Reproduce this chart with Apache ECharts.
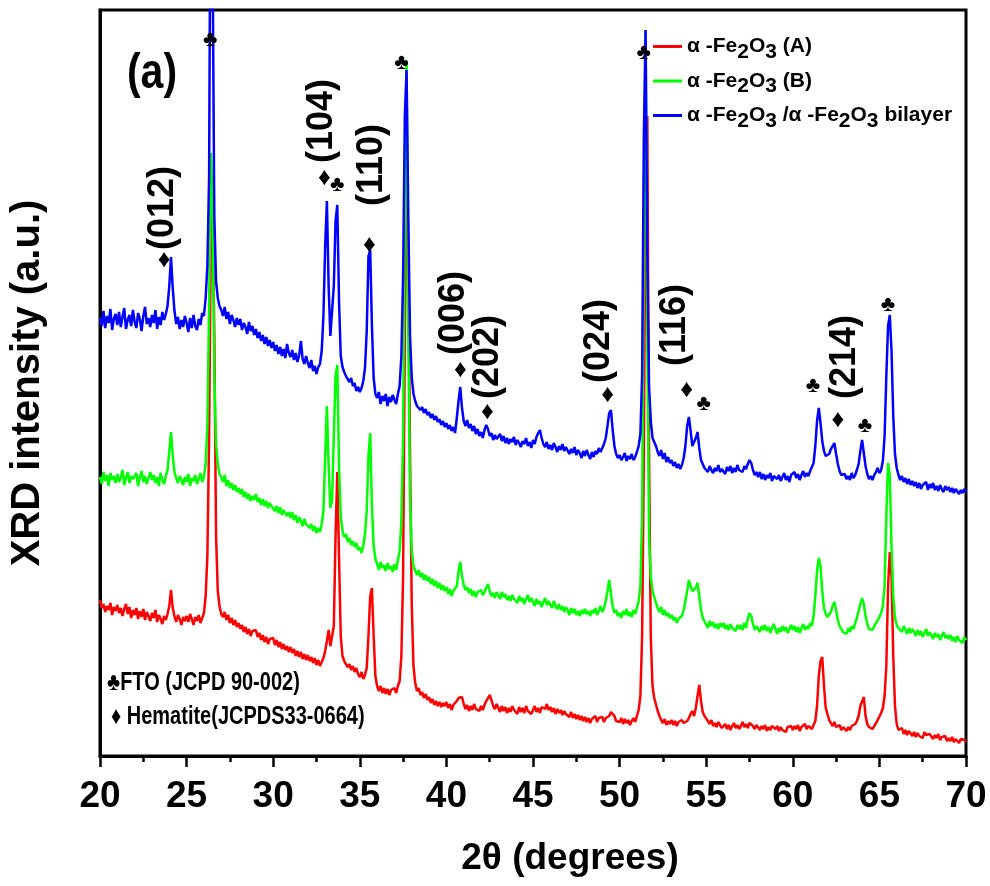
<!DOCTYPE html>
<html>
<head>
<meta charset="utf-8">
<script src="https://cdn.jsdelivr.net/npm/echarts@6/dist/echarts.min.js"></script>
<style>
  html, body { margin: 0; padding: 0; background: #ffffff; }
  #chart { width: 990px; height: 886px; }
</style>
</head>
<body>
<div id="chart"></div>
<script>
// XRD scan: 2θ from 20° to 70° in 0.1° steps
const scanStart = 20;
const scanStep = 0.1;

// α-Fe2O3 (A) intensities (a.u.), one row per degree
const sampleA = [
  156,148,152,144,150,146,153,141,149,145,
  151,143,148,140,147,152,142,149,138,146,
  141,148,137,145,139,147,136,144,140,135,
  143,138,146,134,141,137,132,140,136,142,
  150,166,148,140,134,141,137,131,139,135,
  140,134,142,137,131,139,135,141,133,138,
  143,160,200,320,520,556,420,220,165,150,
  142,139,144,136,141,133,138,131,136,129,
  133,127,131,124,129,122,127,120,125,123,
  126,119,123,116,121,114,119,112,117,115,
  118,111,116,109,114,107,112,106,110,104,
  109,103,107,100,105,99,104,97,102,96,
  101,95,99,93,98,91,96,90,94,98,
  105,115,126,110,108,130,220,284,200,120,
  100,95,93,89,92,86,90,84,88,82,
  79,84,77,81,88,120,160,168,120,80,
  70,65,70,63,68,62,67,61,66,64,
  68,63,70,75,100,180,420,560,500,300,
  150,90,73,65,68,61,64,58,62,56,
  59,53,57,51,55,50,54,49,53,50,
  54,48,52,46,51,49,55,58,58,59,
  52,47,51,45,50,46,52,47,49,45,
  50,46,51,55,58,61,56,50,47,52,
  48,44,50,45,49,43,48,44,50,46,
  47,42,49,44,48,43,50,45,47,42,
  46,50,44,48,43,49,51,47,52,46,
  49,44,48,42,47,43,46,41,45,42,
  43,39,44,38,42,37,41,36,40,35,
  39,34,38,33,37,35,40,34,38,36,
  39,34,38,36,40,44,46,40,35,37,
  34,38,32,37,33,36,31,35,38,34,
  40,46,60,120,300,600,640,300,120,70,
  58,56,45,40,36,33,37,31,35,32,
  36,31,35,30,34,32,36,33,31,35,
  38,42,45,40,48,60,71,55,44,40,
  39,35,32,36,30,33,29,34,31,28,
  28,32,27,31,26,30,33,28,31,27,
  30,34,29,32,28,33,35,30,27,31,
  29,26,30,27,31,25,29,26,30,28,
  27,30,25,29,26,28,24,29,27,30,
  26,30,27,31,25,29,28,32,27,30,
  29,27,31,35,50,80,95,99,70,48,
  42,36,33,30,34,29,27,31,26,29,
  27,25,29,26,30,28,32,35,40,50,
  50,59,40,32,29,31,27,30,33,36,
  38,43,48,60,90,170,204,180,100,50,
  32,26,24,28,22,26,21,25,23,20,
  24,19,23,20,22,18,24,21,19,22,
  20,17,21,18,22,16,19,17,20,15,
  18,15,19,14,17,16,13,17,15,16,
  14
];

// α-Fe2O3 (B) intensities (a.u.)
const sampleB = [
  279,272,284,275,281,270,283,276,280,273,
  282,274,279,286,271,278,284,273,280,277,
  275,283,270,279,285,274,280,272,278,284,
  276,281,273,279,270,283,276,272,280,286,
  305,324,300,284,278,273,280,276,271,279,
  274,282,270,278,275,281,272,277,283,274,
  279,292,330,450,603,560,380,312,292,282,
  279,274,281,270,276,268,273,266,271,264,
  268,262,267,259,264,257,262,255,260,256,
  262,254,258,251,257,250,255,248,253,250,
  252,245,250,243,249,241,246,248,240,244,
  238,244,236,241,233,239,235,230,237,232,
  234,228,232,225,230,223,228,224,232,245,
  300,350,290,248,255,320,380,391,290,240,
  225,219,222,214,218,211,215,209,213,206,
  209,203,210,222,245,300,323,250,210,197,
  192,186,194,188,191,185,193,187,190,184,
  192,186,196,205,235,320,560,696,420,260,
  205,190,185,181,186,179,183,176,181,175,
  179,172,177,170,175,168,173,166,171,165,
  169,162,167,160,165,163,170,185,194,180,
  171,166,169,163,167,160,165,159,164,162,
  166,161,164,168,172,165,160,163,158,164,
  161,157,164,159,162,156,160,155,161,157,
  158,153,160,155,158,152,157,161,154,158,
  156,150,157,152,155,149,154,158,151,155,
  153,148,155,150,147,152,146,150,144,149,
  146,141,148,143,147,141,145,140,146,142,
  147,142,145,140,146,143,148,141,145,150,
  144,148,155,165,176,162,150,143,146,140,
  143,138,145,141,147,140,144,139,146,142,
  148,155,170,240,520,726,420,220,180,165,
  159,153,148,144,149,141,146,140,143,138,
  141,136,139,133,137,135,140,146,155,165,
  176,170,165,163,168,173,160,146,138,135,
  133,128,135,130,134,128,132,127,133,129,
  133,127,131,126,132,128,130,125,131,127,
  131,126,133,128,137,143,140,132,126,130,
  129,124,130,126,131,125,129,123,128,132,
  127,122,128,124,130,125,129,123,127,131,
  126,130,124,129,123,128,132,126,130,127,
  133,130,140,160,185,198,190,165,148,142,
  139,137,144,150,154,146,136,130,127,124,
  126,122,128,124,130,127,133,138,145,152,
  158,152,140,132,127,129,126,130,133,136,
  139,143,150,170,240,293,280,210,160,138,
  131,128,129,124,130,126,122,128,123,127,
  124,120,126,121,125,119,123,127,120,124,
  121,117,123,119,122,116,120,124,118,121,
  117,121,115,119,114,120,116,118,113,119,
  116
];

// α-Fe2O3 / α-Fe2O3 bilayer intensities (a.u.)
const bilayer = [
  438,430,445,428,440,433,447,426,437,442,
  431,444,429,439,448,427,436,441,430,446,
  434,428,443,437,425,440,449,432,438,429,
  441,433,446,427,439,431,444,436,442,450,
  470,499,468,445,432,439,427,436,429,440,
  433,424,438,428,441,430,426,437,431,443,
  440,458,490,580,980,800,540,475,458,450,
  446,440,449,437,444,432,441,436,429,438,
  431,437,426,433,429,422,434,425,430,421,
  427,418,424,415,421,412,419,410,416,408,
  414,405,411,402,409,400,407,398,412,403,
  399,406,396,403,394,401,415,397,392,400,
  393,388,396,385,390,382,389,392,405,440,
  510,555,470,420,418,470,535,551,455,400,
  389,384,380,377,374,378,370,373,365,369,
  364,368,375,388,425,500,506,430,378,362,
  358,364,352,360,355,362,350,359,354,361,
  356,352,362,370,400,480,640,686,540,420,
  378,362,355,350,352,346,349,343,347,341,
  344,338,342,336,340,334,337,331,335,329,
  333,327,331,325,329,323,338,355,369,348,
  335,330,336,328,332,325,330,322,327,320,
  324,318,326,331,327,320,323,316,321,317,
  319,322,315,320,313,318,312,317,314,319,
  311,316,313,309,315,312,318,310,314,308,
  316,312,319,323,326,318,312,309,314,307,
  311,306,313,309,304,310,306,312,305,309,
  308,302,307,303,309,301,306,303,298,305,
  300,306,301,297,304,299,305,302,308,304,
  306,312,318,330,343,346,326,310,302,298,
  301,296,299,303,295,300,297,302,296,299,
  304,310,322,380,620,726,500,370,335,318,
  316,310,304,300,306,297,303,294,299,293,
  296,290,294,288,292,287,291,298,310,330,
  339,325,310,309,318,324,308,296,292,288,
  289,284,290,286,283,288,285,291,284,287,
  286,282,289,285,290,283,288,284,291,286,
  288,284,290,287,292,296,293,286,281,284,
  279,284,277,282,276,281,278,283,275,280,
  282,277,281,275,279,283,276,280,274,281,
  279,284,278,282,276,281,285,279,283,280,
  285,289,293,310,335,348,333,315,305,300,
  299,302,307,310,313,302,292,285,281,279,
  282,277,280,276,283,278,281,286,292,305,
  316,303,290,282,277,280,276,281,284,288,
  283,286,295,320,380,430,441,405,340,302,
  288,281,276,280,274,278,272,277,271,275,
  270,274,268,273,267,271,269,274,266,272,
  268,273,266,270,265,271,267,264,270,266,
  269,264,268,263,267,265,262,266,263,267,
  264
];

const seriesNames = ['α-Fe2O3 (A)', 'α-Fe2O3 (B)', 'α-Fe2O3/α-Fe2O3 bilayer'];
const seriesColors = ['#ff0000', '#00ff00', '#0000ff'];
const legendLabels = [
  '{n|α -Fe}{s|2}{n|O}{s|3}{n| (A)}',
  '{n|α -Fe}{s|2}{n|O}{s|3}{n| (B)}',
  '{n|α -Fe}{s|2}{n|O}{s|3}{n| /α -Fe}{s|2}{n|O}{s|3}{n| bilayer}'
];

// Peak markers: ♣ = FTO, ♦ = hematite, plus (hkl) indices
const peakNotes = [
  { x: 26.36, y: 716, text: '♣', rot: 0 },
  { x: 23.70, y: 496, text: '♦', rot: 0 },
  { x: 23.64, y: 548, text: '(012)', rot: 90 },
  { x: 32.95, y: 578, text: '♦', rot: 0 },
  { x: 33.70, y: 571, text: '♣', rot: 0 },
  { x: 32.83, y: 635, text: '(104)', rot: 90 },
  { x: 35.55, y: 511, text: '♦', rot: 0 },
  { x: 35.72, y: 591, text: '(110)', rot: 90 },
  { x: 37.40, y: 693, text: '♣', rot: 0 },
  { x: 40.81, y: 386, text: '♦', rot: 0 },
  { x: 40.46, y: 443, text: '(006)', rot: 90 },
  { x: 42.37, y: 344, text: '♦', rot: 0 },
  { x: 42.43, y: 399, text: '(202)', rot: 90 },
  { x: 49.31, y: 361, text: '♦', rot: 0 },
  { x: 48.84, y: 415, text: '(024)', rot: 90 },
  { x: 51.39, y: 703, text: '♣', rot: 0 },
  { x: 53.87, y: 366, text: '♦', rot: 0 },
  { x: 53.18, y: 431, text: '(116)', rot: 90 },
  { x: 54.86, y: 352, text: '♣', rot: 0 },
  { x: 61.16, y: 370, text: '♣', rot: 0 },
  { x: 62.60, y: 336, text: '♦', rot: 0 },
  { x: 63.01, y: 399, text: '(214)', rot: 90 },
  { x: 64.16, y: 330, text: '♣', rot: 0 },
  { x: 65.49, y: 451, text: '♣', rot: 0 }
];

const face = "'Liberation Sans', Arial, 'DejaVu Sans', sans-serif";

function toPairs(values) {
  return values.map((v, i) => [+(scanStart + i * scanStep).toFixed(1), v]);
}

function noteSize(p) {
  if (p.rot) return 36;
  return p.text === '♦' ? 25 : 22;
}

const chart = echarts.init(document.getElementById('chart'), null, { renderer: 'canvas' });

const lineSeries = [sampleA, sampleB, bilayer].map((vals, k) => ({
  name: seriesNames[k],
  type: 'line',
  data: toPairs(vals),
  showSymbol: false,
  symbol: 'none',
  clip: true,
  lineStyle: { color: seriesColors[k], width: 2.5 },
  itemStyle: { color: seriesColors[k] },
  z: 2 + k
}));

const noteSeries = {
  name: 'notes',
  type: 'scatter',
  symbolSize: 0,
  silent: true,
  z: 10,
  itemStyle: { color: '#000', opacity: 1 },
  data: peakNotes.map(p => ({
    value: [p.x, p.y],
    name: p.text,
    label: {
      rotate: p.rot,
      fontSize: noteSize(p)
    }
  })),
  label: {
    show: true,
    position: 'inside',
    formatter: p => p.name,
    color: '#000',
    opacity: 1,
    textBorderWidth: 0,
    textBorderColor: 'transparent',
    fontWeight: 'bold',
    fontFamily: face
  }
};

chart.setOption({
  animation: false,
  backgroundColor: '#ffffff',
  grid: {
    left: 100, right: 24, top: 10, bottom: 130,
    show: true, borderColor: '#000', borderWidth: 3, backgroundColor: 'transparent'
  },
  xAxis: {
    type: 'value',
    min: 20, max: 70, interval: 5,
    name: '2θ (degrees)',
    nameLocation: 'middle',
    nameGap: 84,
    nameTextStyle: {
      fontFamily: face, fontWeight: 'bold', fontSize: 37, color: '#000',
      padding: [0, 0, 0, 74]
    },
    axisLine: { lineStyle: { color: '#000', width: 3 } },
    axisTick: { show: true, length: 11, lineStyle: { color: '#000', width: 2.5 } },
    minorTick: { show: true, splitNumber: 2, length: 6, lineStyle: { color: '#000', width: 2.5 } },
    splitLine: { show: false },
    axisLabel: { fontFamily: face, fontWeight: 'bold', fontSize: 37, color: '#000', margin: 22 }
  },
  yAxis: {
    type: 'value',
    min: 0, max: 746,
    name: 'XRD intensity (a.u.)',
    nameLocation: 'middle',
    nameGap: 52,
    nameTextStyle: { fontFamily: face, fontWeight: 'bold', fontSize: 40, color: '#000' },
    axisLine: { show: true, lineStyle: { color: '#000', width: 3 } },
    axisTick: { show: false },
    axisLabel: { show: false },
    splitLine: { show: false }
  },
  legend: {
    data: seriesNames,
    orient: 'vertical',
    left: 653, top: 36,
    padding: 0,
    icon: 'rect',
    itemWidth: 29, itemHeight: 3,
    itemGap: 8,
    selectedMode: false,
    formatter: name => legendLabels[seriesNames.indexOf(name)],
    textStyle: {
      color: '#000',
      rich: {
        n: { fontFamily: face, fontWeight: 'bold', fontSize: 21, color: '#000', lineHeight: 32, verticalAlign: 'middle' },
        s: { fontFamily: face, fontWeight: 'bold', fontSize: 21, color: '#000', lineHeight: 22, verticalAlign: 'bottom' }
      }
    }
  },
  graphic: [
    { type: 'text', x: 152, y: 74, scaleX: 0.82,
      style: { text: '(a)', font: 'bold 50px ' + face, fill: '#000', textAlign: 'center', textVerticalAlign: 'middle' } },
    { type: 'text', x: 107, y: 683, scaleX: 0.8,
      style: { text: '♣FTO (JCPD 90-002)', font: 'bold 25px ' + face, fill: '#000', textAlign: 'left', textVerticalAlign: 'middle' } },
    { type: 'text', x: 111, y: 717, scaleX: 0.8,
      style: { text: '♦ Hematite(JCPDS33-0664)', font: 'bold 25px ' + face, fill: '#000', textAlign: 'left', textVerticalAlign: 'middle' } }
  ],
  series: [...lineSeries, noteSeries]
});
</script>
</body>
</html>
